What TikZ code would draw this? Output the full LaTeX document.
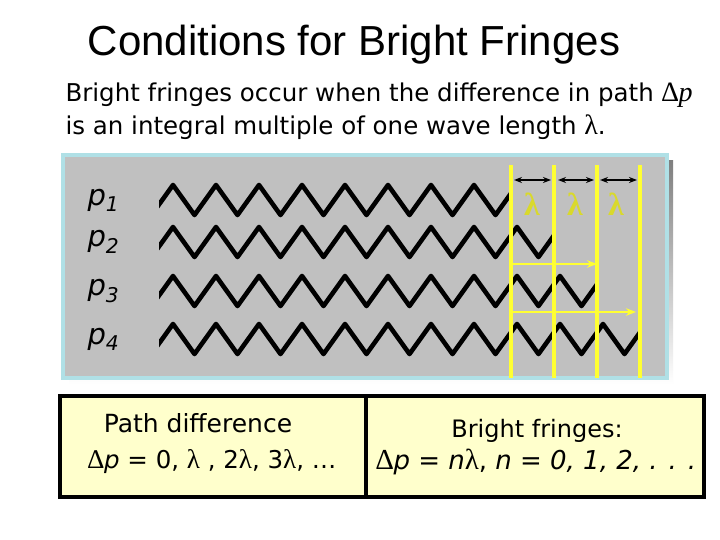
\documentclass[tikz,border=0pt]{standalone}
\usepackage{fontspec}
\setmainfont{DejaVu Sans}
\newfontfamily\titlefont{Liberation Sans}
\newfontfamily\grk{Liberation Serif}
\usetikzlibrary{arrows.meta}
\definecolor{panelgray}{RGB}{192,192,192}
\definecolor{panelborder}{RGB}{176,224,230}
\definecolor{shade}{RGB}{128,128,128}
\definecolor{cream}{RGB}{255,255,204}
\definecolor{ylw}{RGB}{255,255,50}
\begin{document}
\begin{tikzpicture}[x=1pt,y=-1pt,
  wave/.style={line width=4.6pt,black,line join=round,line cap=round},
  yline/.style={ylw,line width=3.6pt},
  yarrow/.style={ylw,line width=2.2pt,-{Stealth[length=10pt]}},
  barrow/.style={black,line width=1.6pt,{Stealth[length=8pt]}-{Stealth[length=8pt]}},
  lab/.style={font=\fontsize{29}{32}\selectfont\itshape, anchor=west},
  lam/.style={text=ylw!85!black,font=\grk\bfseries\fontsize{32}{34}\selectfont},
  box/.style={draw=black,line width=3.5pt,fill=cream}]
\useasboundingbox (0,0) rectangle (720,540);
\fill[white] (0,0) rectangle (720,540);
\node[font=\titlefont\fontsize{42}{46}\selectfont] (title) at (354,45) {Conditions for Bright Fringes};
\node[anchor=west,font=\fontsize{24.5}{26}\selectfont] (l1) at (62,95) {Bright fringes occur when the difference in path {\grk\fontsize{28}{28}\selectfont ∆\textit{p}}};
\node[anchor=west,font=\fontsize{24.5}{26}\selectfont] (l2) at (62,127) {is an integral multiple of one wave length {\grk\fontsize{28}{28}\selectfont λ}.};
% panel
\fill[shade] (69,161) rectangle (673,384);
\draw[panelborder,line width=3.5pt,fill=panelgray] (63,155) rectangle (667,378);
% labels
\node[lab] (p1) at (84,200) {p\textsubscript{1}};
\node[lab] (p2) at (84,242) {p\textsubscript{2}};
\node[lab] (p3) at (84,291) {p\textsubscript{3}};
\node[lab] (p4) at (84,339) {p\textsubscript{4}};
% waves
\foreach \c/\e in {200/511, 242/554, 291/597, 339/640}{
  \begin{scope}
    \clip (159,\c-30) rectangle (\e+1.5,\c+30);
    \draw[wave] (151.5-43,\c+15)
      \foreach \k in {0,...,12}{ -- ++(21.5,-30) -- ++(21.5,30) };
  \end{scope}
}
% yellow lines
\coordinate (t1) at (511,165); \coordinate (b1) at (511,378);
\coordinate (t2) at (554,165); \coordinate (b2) at (554,378);
\coordinate (t3) at (597,165); \coordinate (b3) at (597,378);
\coordinate (t4) at (640,165); \coordinate (b4) at (640,378);
\foreach \i in {1,...,4}{ \draw[yline] (t\i) -- (b\i); }
% black double arrows
\coordinate (a1) at (514,180); \coordinate (a2) at (551,180);
\coordinate (a3) at (558,180); \coordinate (a4) at (594,180);
\coordinate (a5) at (600,180); \coordinate (a6) at (637,180);
\draw[barrow] (a1) -- (a2);
\draw[barrow] (a3) -- (a4);
\draw[barrow] (a5) -- (a6);
\node[lam] (m1) at (532,204) {λ};
\node[lam] (m2) at (575,204) {λ};
\node[lam] (m3) at (616,204) {λ};
% yellow arrows
\coordinate (y1s) at (513,264); \coordinate (y1e) at (597,264);
\coordinate (y2s) at (513,312); \coordinate (y2e) at (636,312);
\draw[yarrow] (y1s) -- (y1e);
\draw[yarrow] (y2s) -- (y2e);
% bottom boxes
\draw[box] (60,396) rectangle (366,497);
\draw[box] (366,396) rectangle (704,497);
\node[font=\fontsize{25}{28}\selectfont] (pd) at (198,423) {Path difference};
\node[font=\fontsize{24.5}{28}\selectfont] (pv) at (212,462) {{\grk\fontsize{27}{28}\selectfont ∆}\textit{p} = 0, {\grk\fontsize{27}{28}\selectfont λ} , 2{\grk\fontsize{27}{28}\selectfont λ}, 3{\grk\fontsize{27}{28}\selectfont λ}, …};
\node[font=\fontsize{24}{28}\selectfont] (bf) at (537,431) {Bright fringes:};
\node[font=\fontsize{26}{28}\selectfont] (bv) at (536,462) {{\grk\fontsize{29}{28}\selectfont ∆}\textit{p} = \textit{n}{\grk\fontsize{29}{28}\selectfont λ}, \textit{n} = \textit{0, 1, 2, . . .}};
\end{tikzpicture}
\end{document}
